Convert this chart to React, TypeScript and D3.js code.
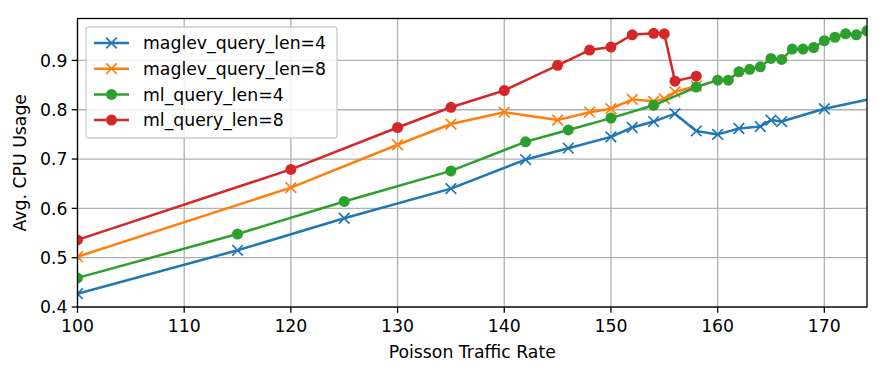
import React from 'react'
import * as d3 from 'd3'

const maglev4X = [100, 115, 125, 135, 142, 146, 150, 152, 154, 156, 158, 160, 162, 164, 165, 166, 170, 175]
const maglev4Y = [0.427, 0.515, 0.58, 0.64, 0.699, 0.722, 0.745, 0.764, 0.776, 0.792, 0.757, 0.75, 0.762, 0.766, 0.779, 0.776, 0.802, 0.825]

const maglev8X = [100, 120, 130, 135, 140, 145, 148, 150, 152, 154, 155, 156, 158]
const maglev8Y = [0.502, 0.642, 0.729, 0.771, 0.795, 0.779, 0.795, 0.802, 0.821, 0.817, 0.822, 0.836, 0.848]

const ml4X = [100, 115, 125, 135, 142, 146, 150, 154, 158, 160, 161, 162, 163, 164, 165, 166, 167, 168, 169, 170, 171, 172, 173, 174]
const ml4Y = [0.459, 0.548, 0.614, 0.676, 0.735, 0.759, 0.783, 0.809, 0.846, 0.86, 0.86, 0.877, 0.882, 0.887, 0.904, 0.902, 0.923, 0.923, 0.926, 0.94, 0.947, 0.954, 0.952, 0.96]

const ml8X = [100, 120, 130, 135, 140, 145, 148, 150, 152, 154, 155, 156, 158]
const ml8Y = [0.536, 0.679, 0.764, 0.805, 0.839, 0.89, 0.921, 0.927, 0.952, 0.955, 0.954, 0.858, 0.868]

const xTicks = [100, 110, 120, 130, 140, 150, 160, 170]
const yTicks = [0.4, 0.5, 0.6, 0.7, 0.8, 0.9]

const series = [
  { name: 'maglev_query_len=4', xs: maglev4X, ys: maglev4Y, color: '#1f77b4', marker: 'x' },
  { name: 'maglev_query_len=8', xs: maglev8X, ys: maglev8Y, color: '#ff7f0e', marker: 'x' },
  { name: 'ml_query_len=4', xs: ml4X, ys: ml4Y, color: '#2ca02c', marker: 'o' },
  { name: 'ml_query_len=8', xs: ml8X, ys: ml8Y, color: '#d62728', marker: 'o' },
]

const W = 887
const H = 374
const left = 77.5
const right = 867
const top = 18.5
const bottom = 307
const font = 'DejaVu Sans, sans-serif'
const fs = 17.3

const Marker = ({ type, x, y, color }: { type: string; x: number; y: number; color: string }) => {
  if (type === 'o') return <circle cx={x} cy={y} r={5.5} fill={color} />
  const s = 5.3
  return (
    <path
      d={`M${x - s},${y - s}L${x + s},${y + s}M${x - s},${y + s}L${x + s},${y - s}`}
      stroke={color}
      strokeWidth={1.7}
      fill="none"
    />
  )
}

const App = () => {
  const x = d3.scaleLinear().domain([100, 174]).range([left, right])
  const y = d3.scaleLinear().domain([0.4, 0.985]).range([bottom, top])

  const line = d3
    .line<[number, number]>()
    .x((d) => x(d[0]))
    .y((d) => y(d[1]))

  return (
    <svg
      width={W}
      height={H}
      style={{ position: 'absolute', left: 0, top: 0, background: '#fff' }}
      fontFamily={font}
    >
      <defs>
        <clipPath id="plot">
          <rect x={left} y={top} width={right - left} height={bottom - top} />
        </clipPath>
      </defs>

      {/* grid */}
      <g stroke="#b0b0b0" strokeWidth={1.3}>
        {xTicks.map((t) => (
          <line key={'gx' + t} x1={x(t)} x2={x(t)} y1={top} y2={bottom} />
        ))}
        {yTicks.map((t) => (
          <line key={'gy' + t} x1={left} x2={right} y1={y(t)} y2={y(t)} />
        ))}
      </g>

      {/* series */}
      <g clipPath="url(#plot)">
        {series.map((s) => {
          const pts = s.xs.map((v, i) => [v, s.ys[i]] as [number, number])
          return (
            <g key={s.name}>
              <path d={line(pts) || ''} fill="none" stroke={s.color} strokeWidth={2.5} strokeLinejoin="round" />
              {pts.map((p, i) => (
                <Marker key={i} type={s.marker} x={x(p[0])} y={y(p[1])} color={s.color} />
              ))}
            </g>
          )
        })}
      </g>

      {/* frame */}
      <rect x={left} y={top} width={right - left} height={bottom - top} fill="none" stroke="#000" strokeWidth={1.3} />

      {/* x ticks */}
      <g fontSize={fs} textAnchor="middle">
        {xTicks.map((t) => (
          <g key={'xt' + t}>
            <line x1={x(t)} x2={x(t)} y1={bottom} y2={bottom + 5.8} stroke="#000" strokeWidth={1.3} />
            <text x={x(t)} y={bottom + 24.5}>{t}</text>
          </g>
        ))}
      </g>

      {/* y ticks */}
      <g fontSize={fs} textAnchor="end">
        {yTicks.map((t) => (
          <g key={'yt' + t}>
            <line x1={left - 5.8} x2={left} y1={y(t)} y2={y(t)} stroke="#000" strokeWidth={1.3} />
            <text x={left - 10} y={y(t)} dy="0.36em">{t.toFixed(1)}</text>
          </g>
        ))}
      </g>

      <text x={(left + right) / 2} y={358} fontSize={fs} textAnchor="middle">
        Poisson Traffic Rate
      </text>
      <text
        transform={`translate(26, ${(top + bottom) / 2}) rotate(-90)`}
        fontSize={fs}
        textAnchor="middle"
      >
        Avg. CPU Usage
      </text>

      {/* legend */}
      <g>
        <rect x={86} y={27} width={251} height={111} rx={3} fill="#fff" fillOpacity={0.8} stroke="#cccccc" strokeWidth={1.3} />
        {series.map((s, i) => {
          const cy = 43 + i * 25.7
          return (
            <g key={'lg' + s.name}>
              <line x1={94} x2={129} y1={cy} y2={cy} stroke={s.color} strokeWidth={2.5} />
              <Marker type={s.marker} x={111.5} y={cy} color={s.color} />
              <text x={143} y={cy} dy="0.36em" fontSize={fs}>{s.name}</text>
            </g>
          )
        })}
      </g>
    </svg>
  )
}

export default App
